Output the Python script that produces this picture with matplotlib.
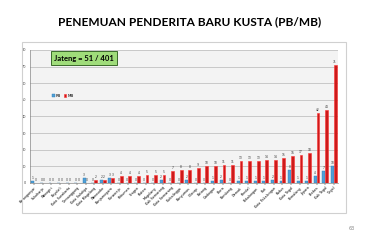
import matplotlib.pyplot as plt
import matplotlib.patches as patches
import numpy as np

districts = ["Karanganyar", "Sukoharjo", "Wonogiri", "Boyolali", "Kota Surakarta",
             "Temanggung", "Kota Salatiga", "Kota Magelang", "Wonosobo", "Banjarnegara",
             "Purworejo", "Kebumen", "Sragen", "Klaten", "Magelang", "Kab Semarang",
             "Kota Semarang", "Purbalingga", "Banyumas", "Cilacap", "Batang",
             "Grobogan", "Blora", "Rembang", "Demak", "Kendal", "Pekalongan",
             "Pati", "Kota Pekalongan", "Kudus", "Kota Tegal", "Pemalang",
             "Jepara", "Brebes", "Kab Tegal", "Tegal"]
pb = [1, 0, 0, 0, 0, 0, 3, 0, 2, 3, 0, 0, 0, 0, 0, 2, 0, 0, 2, 0, 0,
      1, 2, 0, 1, 1, 1, 1, 2, 1, 8, 1, 1, 4, 7, 10]
mb = [0, 0, 0, 0, 0, 0, 0, 2, 2, 3, 4, 4, 4, 5, 5, 5, 7, 8, 8, 9, 10,
      10, 11, 11, 13, 13, 13, 14, 14, 15, 16, 17, 18, 42, 44, 71]

W, H = 380, 241
fig = plt.figure(figsize=(W / 100, H / 100), dpi=100)
fig.patch.set_facecolor("white")

fig.text(0.5, 1 - 22 / H, "PENEMUAN PENDERITA BARU KUSTA (PB/MB)", ha="center",
         va="center", fontsize=8.6, fontweight="bold", family="Lato")

# outer chart frame
fig.patches.append(patches.Rectangle((22 / W, 1 - 213 / H), 324 / W, 171 / H,
                                     transform=fig.transFigure, fill=False,
                                     edgecolor="#d0d0d0", linewidth=0.8))

ax = fig.add_axes([30 / W, 1 - 183 / H, 308 / W, 133 / H])
ax.set_facecolor("#f3f3f3")
x = np.arange(len(districts))
bw = 0.33
ax.bar(x - bw / 2, pb, bw, color="#4f9fd6", edgecolor="#2f7fb6", linewidth=0.3,
       label="PB", zorder=3)
ax.bar(x + bw / 2, mb, bw, color="#cc1a1a", edgecolor="#ff3030", linewidth=0.4,
       label="MB", zorder=3)
for i in range(len(districts)):
    ax.text(x[i] - bw / 2, pb[i] + 0.6, str(pb[i]), ha="center", va="bottom",
            fontsize=2.2, color="#333333")
    ax.text(x[i] + bw / 2, mb[i] + 0.6, str(mb[i]), ha="center", va="bottom",
            fontsize=2.2, color="#333333")

ax.set_xlim(-0.5, len(districts) - 0.5)
ax.set_ylim(0, 80)
ax.set_yticks(range(0, 81, 10))
ax.tick_params(axis="y", labelsize=2.5, length=0, pad=3, colors="#444444")
ax.yaxis.grid(True, color="#c8c8c8", linewidth=0.7, zorder=0)
ax.set_xticks(x)
ax.set_xticklabels(districts, rotation=45, ha="right", rotation_mode="anchor",
                   fontsize=2.4)
ax.tick_params(axis="x", length=1.2, width=0.3, pad=1)
for s in ["top", "right"]:
    ax.spines[s].set_visible(False)
ax.spines["left"].set_color("#888888")
ax.spines["left"].set_linewidth(0.5)
ax.spines["bottom"].set_color("#888888")
ax.spines["bottom"].set_linewidth(0.5)

ax.legend(loc="upper left", bbox_to_anchor=(0.06, 0.7), ncol=2, fontsize=3,
          frameon=False, handlelength=0.6, handleheight=0.6, columnspacing=0.6,
          handletextpad=0.3)

fig.text(84 / W, 1 - 58 / H, "Jateng = 51 / 401", ha="center", va="center",
         fontsize=5.5, fontweight="bold", family="Lato",
         bbox=dict(boxstyle="square,pad=0.45", facecolor="#9fdc7a",
                   edgecolor="#3a6a2a", linewidth=0.7))

fig.text(352 / W, 1 - 229 / H, "63", ha="center", va="center", fontsize=3.5,
         color="#888888")

fig.savefig("out.png", dpi=100)
